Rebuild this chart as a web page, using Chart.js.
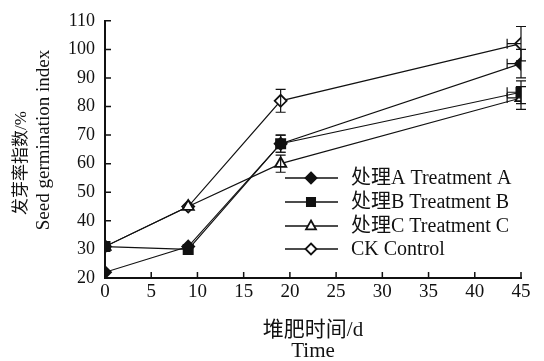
<!DOCTYPE html>
<html>
<head>
<meta charset="utf-8">
<script src="https://cdn.jsdelivr.net/npm/chart.js@4.4.0/dist/chart.umd.min.js"></script>
<style>
  body { margin: 0; background: #fff; }
  #wrap { width: 544px; height: 361px; }
</style>
</head>
<body>
<div id="wrap"><canvas id="myChart" width="544" height="361"></canvas></div>
<script>
// 堆肥时间 (d)
const days = [0, 9, 19, 45];
const seriesNames = ['处理A Treatment A', '处理B Treatment B', '处理C Treatment C', 'CK Control'];

// 发芽率指数 (%)
const treatmentA = [22, 31, 67, 95];
const treatmentB = [31, 30, 67, 85];
const treatmentC = [31, 45, 60, 83];
const control = [31, 45, 82, 102];

// error bars (±)
const errA = [0, 0, 3, 5];
const errB = [0, 0, 3, 4];
const errC = [0, 0, 3, 4];
const errCK = [0, 0, 4, 6];
// little left whisker at the last point
const xErrLeft = [0, 0, 0, 1.5];

const yTicks = [20, 30, 40, 50, 60, 70, 80, 90, 100, 110];
const xTicks = [0, 5, 10, 15, 20, 25, 30, 35, 40, 45];

const serif = '"Liberation Serif", "Noto Sans CJK SC", serif';

const radiusFor = { rectRot: 6, rect: 6.5, triangle: 6.5 };

function makeSet(label, values, err, style, fill) {
    return {
        label: label,
        data: days.map((d, i) => ({ x: d, y: values[i] })),
        err: err,
        borderColor: '#111',
        borderWidth: 1.2,
        pointStyle: style,
        pointRadius: radiusFor[style],
        pointBackgroundColor: fill,
        pointBorderColor: '#111',
        pointBorderWidth: 1.8,
        tension: 0
    };
}

const datasets = [
    makeSet(seriesNames[0], treatmentA, errA, 'rectRot', '#111'),
    makeSet(seriesNames[1], treatmentB, errB, 'rect', '#111'),
    makeSet(seriesNames[2], treatmentC, errC, 'triangle', '#fff'),
    makeSet(seriesNames[3], control, errCK, 'rectRot', '#fff')
];

// error bars drawn from the scales
const errorBars = {
    id: 'errorBars',
    afterDatasetsDraw(chart) {
        const ctx = chart.ctx;
        const xs = chart.scales.x, ys = chart.scales.y;
        ctx.save();
        ctx.strokeStyle = '#111';
        ctx.lineWidth = 1.2;
        chart.data.datasets.forEach(ds => {
            ds.data.forEach((p, i) => {
                const e = ds.err[i];
                if (!e) return;
                const px = xs.getPixelForValue(p.x);
                const top = ys.getPixelForValue(p.y + e);
                const bot = ys.getPixelForValue(p.y - e);
                ctx.beginPath();
                ctx.moveTo(px, top); ctx.lineTo(px, bot);
                ctx.moveTo(px - 5, top); ctx.lineTo(px + 5, top);
                ctx.moveTo(px - 5, bot); ctx.lineTo(px + 5, bot);
                const xe = xErrLeft[i];
                if (xe) {
                    const py = ys.getPixelForValue(p.y);
                    const lx = xs.getPixelForValue(p.x - xe);
                    ctx.moveTo(px, py); ctx.lineTo(lx, py);
                    ctx.moveTo(lx, py - 5); ctx.lineTo(lx, py + 5);
                }
                ctx.stroke();
            });
        });
        ctx.restore();
    }
};

function drawMarker(ctx, style, x, y, r) {
    if (style === 'rectRot') {
        ctx.moveTo(x, y - r); ctx.lineTo(x + r, y);
        ctx.lineTo(x, y + r); ctx.lineTo(x - r, y);
        ctx.closePath();
    } else if (style === 'rect') {
        ctx.rect(x - r * 0.75, y - r * 0.75, 1.5 * r, 1.5 * r);
    } else {
        ctx.moveTo(x, y - r); ctx.lineTo(x + r * 0.9, y + r * 0.6);
        ctx.lineTo(x - r * 0.9, y + r * 0.6);
        ctx.closePath();
    }
}

// inward ticks, axis titles and the legend
const decorations = {
    id: 'decorations',
    afterDraw(chart) {
        const ctx = chart.ctx;
        const xs = chart.scales.x, ys = chart.scales.y;
        const area = chart.chartArea;
        ctx.save();
        ctx.strokeStyle = '#111';
        ctx.lineWidth = 1.5;
        ctx.beginPath();
        yTicks.forEach(v => {
            const py = ys.getPixelForValue(v);
            ctx.moveTo(area.left, py); ctx.lineTo(area.left + 6, py);
        });
        xTicks.forEach(v => {
            const px = xs.getPixelForValue(v);
            ctx.moveTo(px, area.bottom); ctx.lineTo(px, area.bottom - 6);
        });
        ctx.stroke();

        ctx.fillStyle = '#111';
        ctx.textAlign = 'center';
        ctx.textBaseline = 'middle';
        const cx = (area.left + area.right) / 2;
        ctx.font = '21px ' + serif;
        ctx.fillText('堆肥时间/d', cx, 330);
        ctx.fillText('Time', cx, 351);

        ctx.save();
        ctx.translate(22, 163);
        ctx.rotate(-Math.PI / 2);
        ctx.font = '17px ' + serif;
        ctx.fillText('发芽率指数/%', 0, 0);
        ctx.restore();
        ctx.save();
        ctx.translate(44, 140);
        ctx.rotate(-Math.PI / 2);
        ctx.font = '19px ' + serif;
        ctx.fillText('Seed germination index', 0, 0);
        ctx.restore();

        // legend
        const rows = [178, 202, 226, 249];
        chart.data.datasets.forEach((ds, i) => {
            const y = rows[i];
            ctx.strokeStyle = '#111';
            ctx.lineWidth = 1.3;
            ctx.beginPath();
            ctx.moveTo(285, y); ctx.lineTo(338, y);
            ctx.stroke();
            ctx.fillStyle = ds.pointBackgroundColor;
            ctx.lineWidth = 1.8;
            ctx.beginPath();
            drawMarker(ctx, ds.pointStyle, 311, y, 5.5);
            ctx.fill();
            ctx.stroke();
            ctx.fillStyle = '#111';
            ctx.textAlign = 'left';
            ctx.font = '20px ' + serif;
            ctx.fillText(ds.label, 351, y + 1);
        });
        ctx.restore();
    }
};

new Chart(document.getElementById('myChart'), {
    type: 'line',
    data: { datasets: datasets },
    options: {
        responsive: false,
        animation: false,
        layout: { padding: { top: 14, right: 23, left: 0, bottom: 0 } },
        plugins: { legend: { display: false }, tooltip: { enabled: false } },
        scales: {
            x: {
                type: 'linear',
                min: 0, max: 45,
                afterFit(scale) { scale.height = 83; },
                afterBuildTicks(scale) { scale.ticks = xTicks.map(v => ({ value: v })); },
                grid: { display: false, drawTicks: false },
                border: { color: '#111', width: 2 },
                ticks: { color: '#111', font: { family: serif, size: 19 }, padding: 3 }
            },
            y: {
                min: 20, max: 110,
                afterFit(scale) { scale.width = 105; },
                afterBuildTicks(scale) { scale.ticks = yTicks.map(v => ({ value: v })); },
                grid: { display: false, drawTicks: false },
                border: { color: '#111', width: 2 },
                ticks: { color: '#111', font: { family: serif, size: 18 }, padding: 10 }
            }
        }
    },
    plugins: [errorBars, decorations]
});
</script>
</body>
</html>
